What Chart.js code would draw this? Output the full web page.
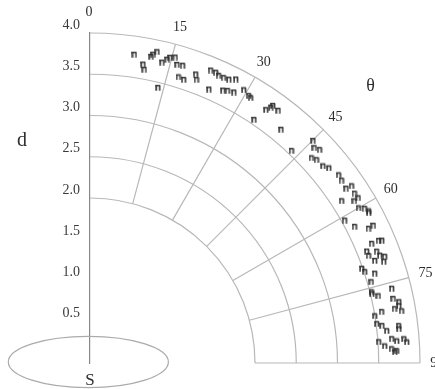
<!DOCTYPE html>
<html><head><meta charset="utf-8">
<script src="https://cdn.jsdelivr.net/npm/chart.js@4.4.0/dist/chart.umd.min.js"></script>
<style>html,body{margin:0;padding:0;background:#fff}#wrap{width:435px;height:389px;position:relative}</style>
</head><body><div id="wrap"><canvas id="c"></canvas></div>
<script>
// Data: angle theta (degrees from vertical) and distance d
const thetaDeg = [8.2,10.1,10.5,11.3,11.6,12.2,13.5,14.3,14.7,15.6,16.3,17.3,17.2,18.3,20.1,20.6,13.9,22.4,23.4,24.1,
  25.1,26.1,27.2,23.5,26.0,26.8,28.0,29.4,30.7,34.0,34.8,35.4,36.7,39.3,43.5,45.1,46.2,47.1,47.2,48.1,
  49.8,50.8,52.9,54.0,55.7,55.9,57.3,58.4,57.2,58.5,60.0,60.6,61.7,60.7,62.7,64.2,64.1,67.2,67.0,68.0,
  68.7,69.6,70.1,70.2,70.9,70.8,71.6,72.5,73.9,76.2,76.9,76.1,78.0,79.5,79.9,80.5,80.6,80.0,82.2,82.7,
  83.8,83.7,85.4,85.9,85.6,86.2,87.3,87.7,86.7,61.4,67.0,68.9,75.8,78.8,83.1,87.9,85.8,35.3,31.2];
const dist = [3.78,3.68,3.62,3.79,3.82,3.86,3.75,3.80,3.83,3.85,3.77,3.78,3.63,3.62,3.73,3.67,3.44,3.84,3.84,3.82,
  3.82,3.83,3.87,3.62,3.68,3.70,3.72,3.80,3.77,3.56,3.74,3.83,3.82,3.66,3.55,3.82,3.77,3.80,3.66,3.69,
  3.70,3.74,3.78,3.77,3.76,3.83,3.81,3.82,3.63,3.76,3.76,3.82,3.84,3.54,3.61,3.75,3.82,3.84,3.71,3.62,
  3.73,3.75,3.80,3.67,3.77,3.49,3.51,3.62,3.55,3.52,3.59,3.77,3.76,3.81,3.75,3.83,3.50,3.59,3.51,3.57,
  3.62,3.77,3.67,3.73,3.82,3.85,3.66,3.72,3.58,3.85,3.80,3.62,3.52,3.82,3.77,3.70,3.51,3.80,3.76];
const radialTicks = [0.5,1.0,1.5,2.0,2.5,3.0,3.5,4.0];
const ringRadii = [2.0,2.5,3.0,3.5,4.0];
const angleTicks = [0,15,30,45,60,75,90];
const angleLabels = ['0','15','30','45','60','75','90'];
const radialTitle = 'd';
const angleTitle = 'θ';
const originLabel = 'S';

const rad = a => a * Math.PI / 180;
const points = thetaDeg.map((t, i) => ({x: dist[i] * Math.sin(rad(t)), y: dist[i] * Math.cos(rad(t))}));

// marker glyph (small "n")
const mk = document.createElement('canvas');
mk.width = 6; mk.height = 7;
(function(){
  const g = mk.getContext('2d');
  g.fillStyle = 'rgba(45,45,45,0.9)';
  g.fillRect(0.3, 1, 1.7, 5.7);
  g.fillRect(0.3, 0.8, 4.8, 1.6);
  g.fillRect(3.7, 1.6, 1.7, 5.1);
})();

const SERIF = '"Liberation Serif", "DejaVu Serif", serif';

const polarPlugin = {
  id: 'polarGrid',
  beforeDatasetsDraw(chart) {
    const {ctx, scales: {x, y}} = chart;
    const cx = x.getPixelForValue(0), cy = y.getPixelForValue(0);
    const px = r => x.getPixelForValue(r) - cx;
    ctx.save();
    ctx.strokeStyle = '#b8b8b8';
    ctx.lineWidth = 1.2;
    ringRadii.forEach(r => {
      ctx.beginPath();
      ctx.arc(cx, cy, px(r), -Math.PI / 2, 0);
      ctx.stroke();
    });
    const rIn = ringRadii[0], rOut = ringRadii[ringRadii.length - 1];
    angleTicks.forEach(a => {
      if (a === 0) return;
      const s = Math.sin(rad(a)), c = Math.cos(rad(a));
      ctx.beginPath();
      ctx.moveTo(x.getPixelForValue(rIn * s), y.getPixelForValue(rIn * c));
      ctx.lineTo(x.getPixelForValue(rOut * s), y.getPixelForValue(rOut * c));
      ctx.stroke();
    });
    // source ellipse
    ctx.strokeStyle = '#ababab';
    ctx.beginPath();
    ctx.ellipse(x.getPixelForValue(-0.02), cy - 1, px(0.97), px(0.31), 0, 0, Math.PI * 2);
    ctx.stroke();
    ctx.restore();
  },
  afterDraw(chart) {
    const {ctx, scales: {x, y}} = chart;
    ctx.save();
    ctx.fillStyle = '#2e2e2e';
    ctx.textAlign = 'center';
    ctx.textBaseline = 'middle';
    ctx.font = '14px ' + SERIF;
    const rl = 4.21;
    angleTicks.forEach((a, i) => {
      const s = Math.sin(rad(a)), c = Math.cos(rad(a));
      ctx.fillText(angleLabels[i], x.getPixelForValue(rl * s) + (a === 0 ? -1 : 0), y.getPixelForValue(rl * c) - (a === 0 ? 3 : 0));
    });
    ctx.font = '18px ' + SERIF;
    ctx.fillText(angleTitle, x.getPixelForValue(3.4), y.getPixelForValue(3.35));
    ctx.font = '20px ' + SERIF;
    ctx.fillText(radialTitle, 22, y.getPixelForValue(2.69));
    ctx.font = '17px ' + SERIF;
    ctx.fillText(originLabel, x.getPixelForValue(0), y.getPixelForValue(-0.21));
    ctx.restore();
  }
};

new Chart(document.getElementById('c'), {
  type: 'scatter',
  data: {datasets: [{data: points, pointStyle: mk, pointRadius: 3, pointHoverRadius: 3}]},
  options: {
    responsive: true,
    maintainAspectRatio: false,
    animation: false,
    layout: {padding: {top: 33, bottom: 26, left: 0, right: 15}},
    plugins: {legend: {display: false}, tooltip: {enabled: false}},
    scales: {
      x: {type: 'linear', min: 0, max: 4, display: false},
      y: {
        type: 'linear', min: 0, max: 4, position: 'left',
        afterFit(s) { s.width = 90; },
        afterBuildTicks(s) { s.ticks = [0].concat(radialTicks).map(v => ({value: v})); },
        grid: {display: false, drawTicks: false},
        border: {display: true, color: '#888', width: 1.2},
        ticks: {
          padding: 10, labelOffset: -8, color: '#3a3a3a', autoSkip: false,
          font: {family: SERIF, size: 14},
          callback: v => v === 0 ? '' : Number(v).toFixed(1)
        }
      }
    }
  },
  plugins: [polarPlugin]
});
</script>
</body></html>
